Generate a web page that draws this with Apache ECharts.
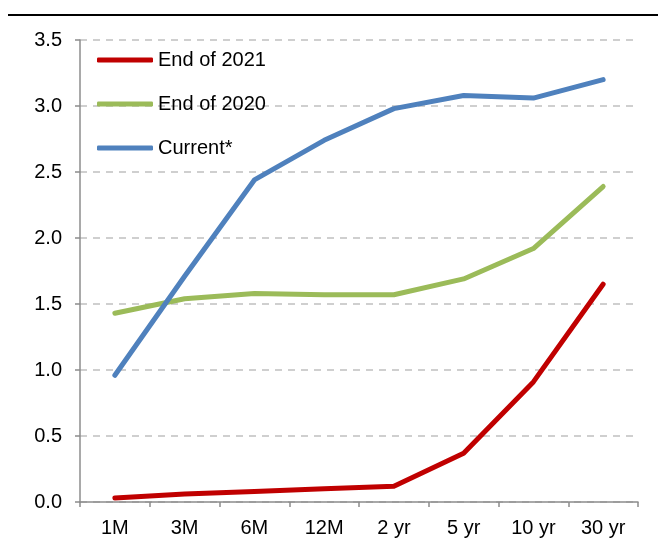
<!DOCTYPE html>
<html>
<head>
<meta charset="utf-8">
<script src="https://cdn.jsdelivr.net/npm/echarts@6/dist/echarts.min.js"></script>
<style>
  html, body { margin: 0; padding: 0; background: #fff; }
  #main { width: 658px; height: 552px; }
</style>
</head>
<body>
<div id="main"></div>
<script>
// tenors on the curve
const tenors = ['1M', '3M', '6M', '12M', '2 yr', '5 yr', '10 yr', '30 yr'];

// yields, %
const end2021 = [0.03, 0.06, 0.08, 0.10, 0.12, 0.37, 0.91, 1.65];
const end2020 = [1.43, 1.54, 1.58, 1.57, 1.57, 1.69, 1.92, 2.39];
const current = [0.96, 1.71, 2.44, 2.74, 2.98, 3.08, 3.06, 3.20];

const chart = echarts.init(document.getElementById('main'));

const axisGrey = '#8c8c8c';

function lineSeries(name, data, color) {
    return {
        name: name,
        type: 'line',
        data: data,
        symbol: 'none',
        lineStyle: { color: color, width: 5, cap: 'round', join: 'round' },
        itemStyle: { color: color }
    };
}

var option = {
    animation: false,
    textStyle: { fontFamily: 'Liberation Sans, Arial, sans-serif' },
    graphic: [
        {
            type: 'line',
            shape: { x1: 8, y1: 15, x2: 658, y2: 15 },
            style: { stroke: '#000', lineWidth: 2 }
        }
    ],
    legend: {
        orient: 'vertical',
        left: 92,
        top: 45,
        itemWidth: 56,
        itemHeight: 5,
        itemGap: 24,
        icon: 'roundRect',
        textStyle: { fontSize: 20, color: '#000' },
        data: ['End of 2021', 'End of 2020', 'Current*']
    },
    grid: {
        left: 80,
        right: 20,
        top: 40,
        bottom: 50
    },
    xAxis: {
        type: 'category',
        data: tenors,
        boundaryGap: true,
        axisLine: { lineStyle: { color: axisGrey, width: 1.5 } },
        axisTick: { show: true, length: 5, lineStyle: { color: axisGrey, width: 1.5 } },
        axisLabel: { fontSize: 20, color: '#000', margin: 16 }
    },
    yAxis: {
        type: 'value',
        min: 0,
        max: 3.5,
        interval: 0.5,
        axisLine: { show: true, lineStyle: { color: axisGrey, width: 1.5 } },
        axisTick: { show: true, length: 5, lineStyle: { color: axisGrey, width: 1.5 } },
        axisLabel: {
            fontSize: 20,
            color: '#000',
            margin: 18,
            formatter: v => v.toFixed(1)
        },
        splitLine: {
            show: true,
            lineStyle: { color: '#c0c0c0', type: [7, 6], width: 1.5 }
        }
    },
    series: [
        lineSeries('End of 2021', end2021, '#c00000'),
        lineSeries('End of 2020', end2020, '#9bbb59'),
        lineSeries('Current*', current, '#4f81bd')
    ]
};

chart.setOption(option);
</script>
</body>
</html>
